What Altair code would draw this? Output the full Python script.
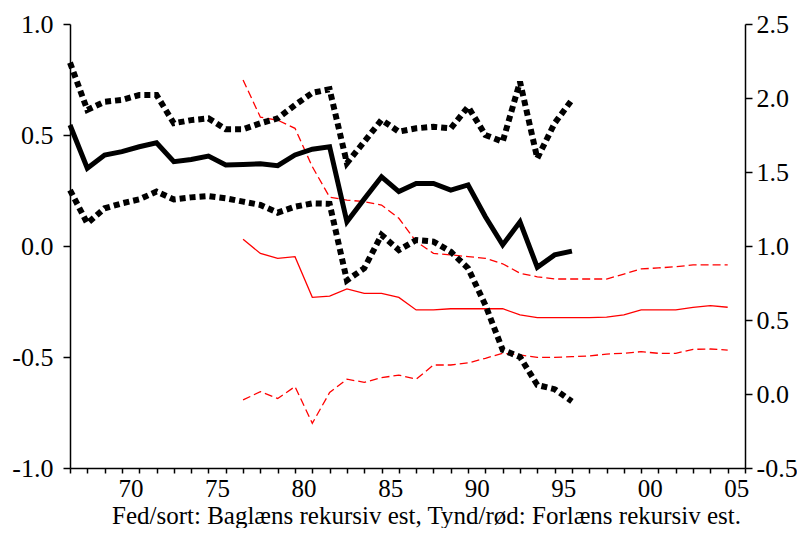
import altair as alt
import pandas as pd

# ---- data ----
years_black = list(range(1967, 1997))
black_mid = [0.545, 0.35, 0.41, 0.425, 0.447, 0.465, 0.38, 0.39, 0.405, 0.365,
             0.367, 0.37, 0.362, 0.41, 0.436, 0.447, 0.109, 0.212, 0.312, 0.245,
             0.282, 0.282, 0.252, 0.275, 0.132, 0.005, 0.109, -0.096, -0.04, -0.023]
black_up = [0.826, 0.613, 0.65, 0.658, 0.68, 0.68, 0.553, 0.567, 0.575, 0.526,
            0.526, 0.553, 0.575, 0.635, 0.69, 0.706, 0.373, 0.47, 0.568, 0.515,
            0.53, 0.537, 0.53, 0.627, 0.5, 0.47, 0.74, 0.395, 0.553, 0.658]
black_lo = [0.252, 0.102, 0.17, 0.192, 0.21, 0.245, 0.21, 0.219, 0.225, 0.215,
            0.2, 0.185, 0.15, 0.177, 0.192, 0.19, -0.155, -0.1, 0.05, -0.018,
            0.027, 0.02, -0.026, -0.1, -0.266, -0.468, -0.5, -0.626, -0.645, -0.70]

years_red = list(range(1977, 2006))
red_mid = [1.045, 0.95, 0.917, 0.928, 0.653, 0.662, 0.71, 0.68, 0.68, 0.653,
           0.568, 0.568, 0.576, 0.576, 0.576, 0.576, 0.534, 0.516, 0.516, 0.516,
           0.516, 0.52, 0.534, 0.568, 0.568, 0.568, 0.586, 0.597, 0.586]
red_up = [2.122, 1.87, 1.85, 1.795, 1.536, 1.33, 1.31, 1.30, 1.277, 1.187,
          1.03, 0.95, 0.94, 0.928, 0.917, 0.88, 0.816, 0.792, 0.777, 0.777,
          0.777, 0.777, 0.81, 0.845, 0.852, 0.86, 0.872, 0.872, 0.872]
red_lo = [-0.04, 0.016, -0.03, 0.05, -0.198, 0.01, 0.1, 0.079, 0.11, 0.128,
          0.1, 0.196, 0.196, 0.21, 0.241, 0.275, 0.264, 0.248, 0.248, 0.252,
          0.257, 0.27, 0.275, 0.286, 0.275, 0.275, 0.302, 0.304, 0.297]

left_ticks = [-1.0, -0.5, 0.0, 0.5, 1.0]
right_ticks = [-0.5, 0.0, 0.5, 1.0, 1.5, 2.0, 2.5]
x_ticks = list(range(1967, 2007))
x_title = "Fed/sort: Baglæns rekursiv est,  Tynd/rød: Forlæns rekursiv est."

FONT = "Liberation Serif"
FS = 26

black_df = pd.DataFrame({
    "year": years_black * 3,
    "value": black_mid + black_up + black_lo,
    "band": ["mid"] * len(years_black) + ["up"] * len(years_black) + ["lo"] * len(years_black),
})
red_df = pd.DataFrame({
    "year": years_red * 3,
    "value": red_mid + red_up + red_lo,
    "band": ["mid"] * len(years_red) + ["up"] * len(years_red) + ["lo"] * len(years_red),
})

minus_expr = "(datum.value < 0 ? '-' : '') + format(abs(datum.value), '.1f')"

x_enc = alt.X(
    "year:Q",
    scale=alt.Scale(domain=[1967, 2006], nice=False, zero=False),
    axis=alt.Axis(
        values=x_ticks,
        labelExpr="datum.value % 5 == 0 ? substring(toString(datum.value), 2, 4) : ''",
        labelOffset=8.6,
        labelOverlap=False,
        labelFlush=False,
        labelBound=False,
        labelFontSize=25,
        labelPadding=3,
        tickSize=5,
        grid=False,
        title=x_title,
        titleX=356,
        titleY=55.5,
        titleAlign="center",
        titleBaseline="alphabetic",
        titleFont=FONT,
        titleFontSize=25,
        titleFontWeight="normal",
        titleColor="black",
    ),
)

y_left = alt.Y(
    "value:Q",
    scale=alt.Scale(domain=[-1.0, 1.0], nice=False, zero=False),
    axis=alt.Axis(orient="left", values=left_ticks, labelExpr=minus_expr,
                  tickSize=7, labelPadding=10, grid=False, title=None),
)
y_right = alt.Y(
    "value:Q",
    scale=alt.Scale(domain=[-0.5, 2.5], nice=False, zero=False),
    axis=alt.Axis(orient="right", values=right_ticks, labelExpr=minus_expr,
                  tickSize=7, labelPadding=4, grid=False, title=None),
)

base_b = alt.Chart(black_df)
b_mid = base_b.transform_filter("datum.band == 'mid'").mark_line(
    color="black", strokeWidth=5, strokeJoin="miter").encode(x=x_enc, y=y_left)
b_up = base_b.transform_filter("datum.band == 'up'").mark_line(
    color="black", strokeWidth=6, strokeDash=[6, 4]).encode(x=x_enc, y=y_left)
b_lo = base_b.transform_filter("datum.band == 'lo'").mark_line(
    color="black", strokeWidth=6, strokeDash=[6, 4]).encode(x=x_enc, y=y_left)

base_r = alt.Chart(red_df)
r_mid = base_r.transform_filter("datum.band == 'mid'").mark_line(
    color="#ff0000", strokeWidth=1.3).encode(x=x_enc, y=y_right)
r_up = base_r.transform_filter("datum.band == 'up'").mark_line(
    color="#ff0000", strokeWidth=1.3, strokeDash=[8, 4]).encode(x=x_enc, y=y_right)
r_lo = base_r.transform_filter("datum.band == 'lo'").mark_line(
    color="#ff0000", strokeWidth=1.3, strokeDash=[8, 4]).encode(x=x_enc, y=y_right)

black_layer = alt.layer(b_mid, b_up, b_lo)
red_layer = alt.layer(r_mid, r_up, r_lo)

chart = alt.layer(red_layer, black_layer).resolve_scale(y="independent").properties(
    width=675,
    height=444,
    autosize=alt.AutoSizeParams(type="none"),
    padding={"left": 62, "top": 16, "right": 52, "bottom": 60},
    background="white",
).configure_view(stroke=None).configure_axis(
    labelFont=FONT,
    labelFontSize=FS,
    labelColor="black",
    domainColor="black",
    domainWidth=1.5,
    tickColor="black",
    tickWidth=1.5,
)

chart.save("out.html", embed_options={"renderer": "svg", "actions": False})
